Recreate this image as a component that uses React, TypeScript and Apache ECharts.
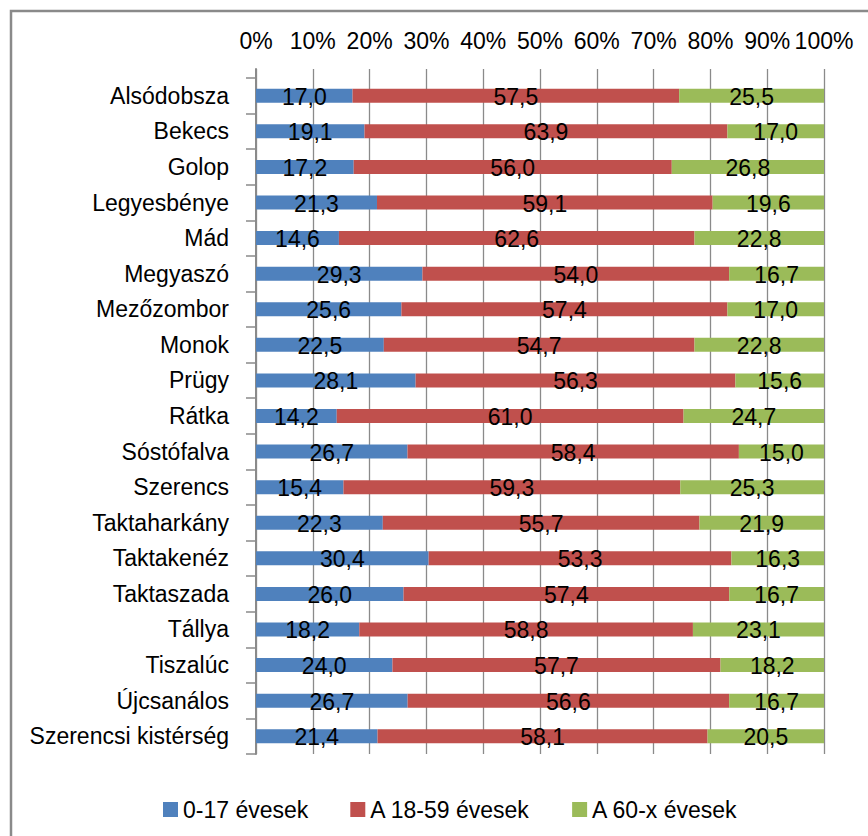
import React, { useEffect, useRef } from "react";
import * as echarts from "echarts";

const categories = [
  "Alsódobsza", "Bekecs", "Golop", "Legyesbénye", "Mád", "Megyaszó", "Mezőzombor",
  "Monok", "Prügy", "Rátka", "Sóstófalva", "Szerencs", "Taktaharkány", "Taktakenéz",
  "Taktaszada", "Tállya", "Tiszalúc", "Újcsanálos", "Szerencsi kistérség",
];
const seriesNames = ["0-17 évesek", "A 18-59 évesek", "A 60-x évesek"];
const young = [17.0, 19.1, 17.2, 21.3, 14.6, 29.3, 25.6, 22.5, 28.1, 14.2, 26.7, 15.4, 22.3, 30.4, 26.0, 18.2, 24.0, 26.7, 21.4];
const adult = [57.5, 63.9, 56.0, 59.1, 62.6, 54.0, 57.4, 54.7, 56.3, 61.0, 58.4, 59.3, 55.7, 53.3, 57.4, 58.8, 57.7, 56.6, 58.1];
const old = [25.5, 17.0, 26.8, 19.6, 22.8, 16.7, 17.0, 22.8, 15.6, 24.7, 15.0, 25.3, 21.9, 16.3, 16.7, 23.1, 18.2, 16.7, 20.5];
const colors = ["#4F81BD", "#C0504D", "#9BBB59"];

const FONT = "'Liberation Sans', Arial, sans-serif";

export default function App() {
  const ref = useRef<HTMLDivElement>(null);
  useEffect(() => {
    if (!ref.current) return;
    const chart = echarts.init(ref.current, null, { renderer: "svg" });
    const raw = [young, adult, old];
    const totals = categories.map((_, i) => young[i] + adult[i] + old[i]);
    const series = raw.map((arr, s) => ({
      name: seriesNames[s],
      type: "bar",
      stack: "total",
      xAxisIndex: 0,
      yAxisIndex: 0,
      barWidth: 14,
      itemStyle: { color: colors[s] },
      label: {
        show: true,
        position: "inside",
        color: "#000",
        fontSize: 23,
        fontFamily: FONT,
        offset: [0, 1],
        formatter: (p: any) => arr[p.dataIndex].toFixed(1).replace(".", ","),
      },
      data: arr.map((v, i) => (v / totals[i]) * 100),
    }));
    chart.setOption({
      animation: false,
      backgroundColor: "#fff",
      textStyle: { fontFamily: FONT },
      grid: [
        { left: 256, width: 568, top: 78, height: 676 },
        { left: 256, width: 568, top: 69, height: 9 },
      ],
      xAxis: [
        {
          type: "value",
          gridIndex: 0,
          position: "top",
          min: 0,
          max: 100,
          interval: 10,
          axisLine: { show: false },
          axisTick: { show: false },
          axisLabel: {
            formatter: "{value}%",
            color: "#000",
            fontSize: 23,
            fontFamily: FONT,
            margin: 26,
          },
          splitLine: { show: true, lineStyle: { color: "#8a8a8a", width: 1.3 } },
        },
        {
          type: "value",
          gridIndex: 1,
          min: 0,
          max: 100,
          interval: 10,
          axisLine: { show: false },
          axisTick: { show: false },
          axisLabel: { show: false },
          splitLine: { show: true, lineStyle: { color: "#8a8a8a", width: 1.3 } },
        },
      ],
      yAxis: [
        {
          type: "category",
          gridIndex: 0,
          inverse: true,
          data: categories,
          axisLine: { show: true, lineStyle: { color: "#8a8a8a", width: 2 } },
          axisTick: { show: true, length: 10, lineStyle: { color: "#8a8a8a", width: 1.5 } },
          axisLabel: { color: "#000", fontSize: 23, fontFamily: FONT, margin: 27 },
        },
        {
          type: "category",
          gridIndex: 1,
          data: [""],
          axisLine: { show: true, lineStyle: { color: "#8a8a8a", width: 2 } },
          axisTick: { show: false },
          axisLabel: { show: false },
        },
      ],
      legend: {
        left: 158,
        top: 793,
        itemWidth: 15,
        itemHeight: 15,
        itemGap: 42,
        icon: "rect",
        data: seriesNames,
        textStyle: { color: "#000", fontSize: 23, fontFamily: FONT },
      },
      graphic: [
        {
          type: "rect",
          shape: { x: 11, y: 11, width: 1000, height: 1000 },
          style: { fill: "none", stroke: "#8a8a8a", lineWidth: 2.5 },
          silent: true,
        },
      ],
      series,
    });
    return () => chart.dispose();
  }, []);
  return (
    <div
      ref={ref}
      style={{ position: "fixed", left: 0, top: 0, width: 868, height: 836 }}
    />
  );
}
